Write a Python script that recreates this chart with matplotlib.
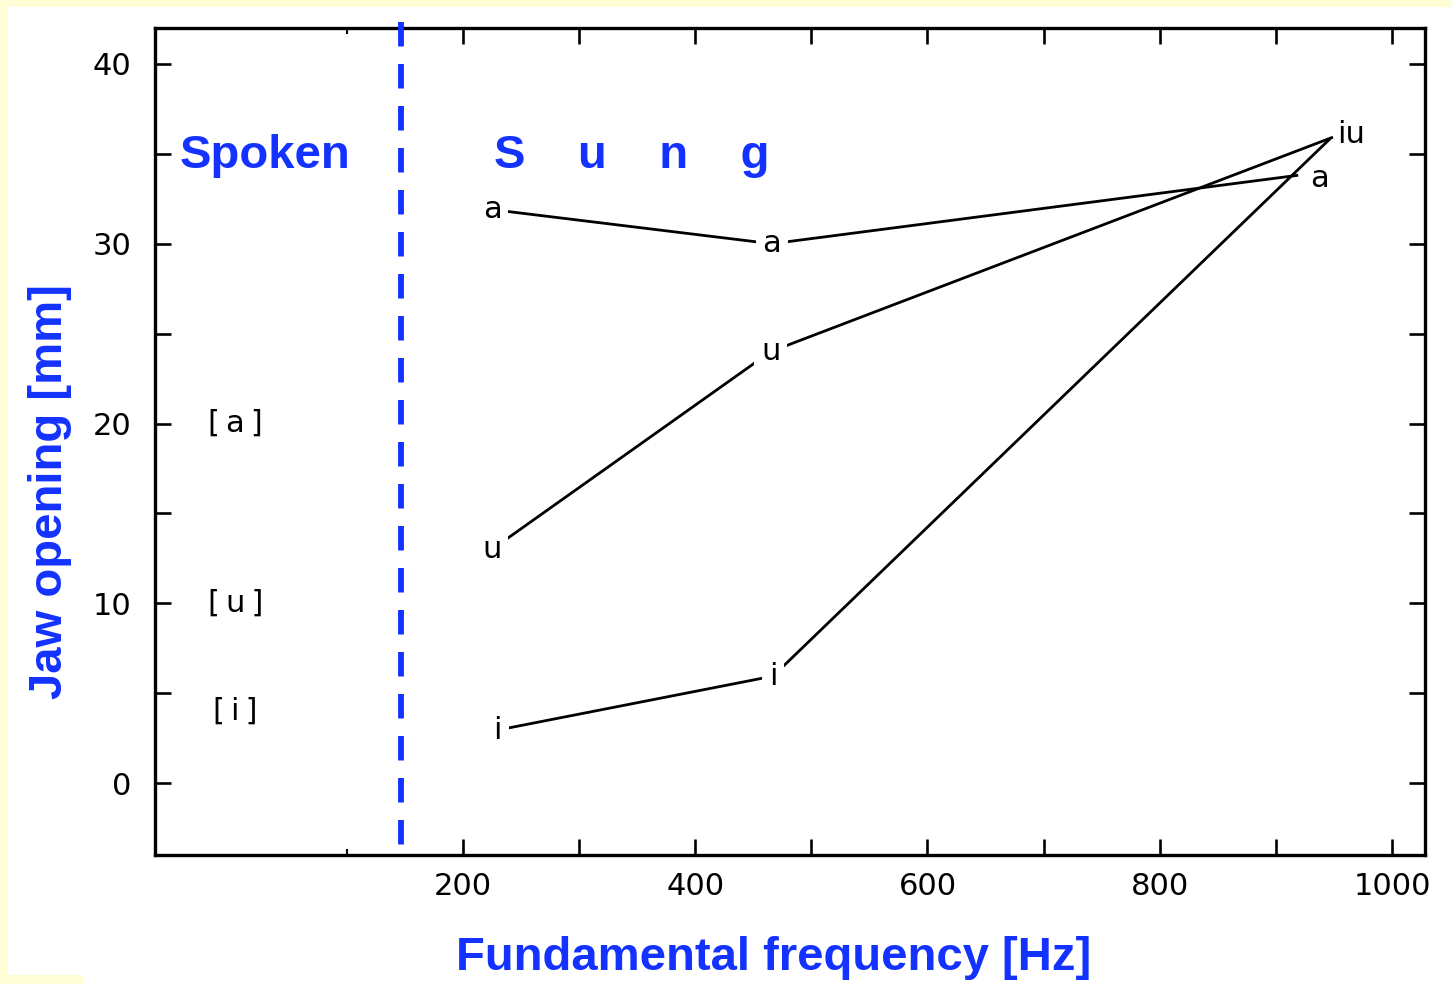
import numpy as np
import matplotlib
matplotlib.use('Agg')
import matplotlib.pyplot as plt
from matplotlib.patches import Rectangle

# sung vowels: fundamental frequency [Hz] vs jaw opening [mm]
freq_a = [225, 466, 918]
jaw_a = [31.9, 30.0, 33.8]
freq_u = [225, 465, 948]
jaw_u = [13.0, 24.0, 35.9]
freq_i = [230, 467, 946]
jaw_i = [2.95, 5.95, 35.8]

# spoken vowels
spoken_labels = ['[\u2009a\u2009]', '[\u2009u\u2009]', '[\u2009i\u2009]']
spoken_jaw = [20, 10, 4]
spoken_x = 4

divider_x = 146.6

xticks = [200, 300, 400, 500, 600, 700, 800, 900, 1000]
xticklabels = ['200', '', '400', '', '600', '', '800', '', '1000']
yticks = [0, 5, 10, 15, 20, 25, 30, 35, 40]
yticklabels = ['0', '', '10', '', '20', '', '30', '', '40']

BLUE = '#1432ff'
YELLOW = '#fffdd6'

fig = plt.figure(figsize=(14.52, 9.84), dpi=100, facecolor=YELLOW)
# white page with a yellow frame like the scanned slide
fig.patches.append(Rectangle((8 / 1452, 0), 1 - 8 / 1452, 1 - 7 / 984,
                             transform=fig.transFigure, fc='white', ec='none', zorder=-10))
fig.patches.append(Rectangle((0, 0), 83 / 1452, 9 / 984,
                             transform=fig.transFigure, fc=YELLOW, ec='none', zorder=-9))

ax = fig.add_axes([155 / 1452, 1 - 855 / 984, (1425 - 155) / 1452, (855 - 28) / 984])
ax.set_facecolor('none')
ax.set_xlim(-65.2, 1028.4)
ax.set_ylim(-4.0, 42.0)

for s in ax.spines.values():
    s.set_linewidth(2.4)

ax.set_xticks(xticks)
ax.set_xticklabels(xticklabels)
ax.set_xticks([100], minor=True)
ax.set_yticks(yticks)
ax.set_yticklabels(yticklabels)
ax.tick_params(which='major', direction='in', top=True, right=True,
               length=11.5, width=1.9, labelsize=22)
ax.tick_params(axis='x', which='major', pad=12)
ax.tick_params(axis='y', which='major', pad=17)
ax.tick_params(which='minor', direction='in', top=True, length=4, width=1.5)

lbl_kw = dict(fontsize=22, ha='center', va='center', zorder=5,
              bbox=dict(boxstyle='square,pad=0.22', fc='white', ec='none'))

for fx, jy, name in [(freq_a, jaw_a, 'a'), (freq_u, jaw_u, 'u'), (freq_i, jaw_i, 'i')]:
    ax.plot(fx, jy, color='black', lw=2.0, zorder=3)
    for k in range(2):
        ax.text(fx[k], jy[k], name, **lbl_kw)

ax.annotate('a', (freq_a[2], jaw_a[2]), xytext=(16, -2), textcoords='offset points',
            fontsize=22, ha='center', va='center')
ax.annotate('iu', (freq_u[2], jaw_u[2]), xytext=(14, 2), textcoords='offset points',
            fontsize=22, ha='center', va='center')

for lab, jy in zip(spoken_labels, spoken_jaw):
    ax.text(spoken_x, jy, lab, fontsize=22, ha='center', va='center')

# divider between spoken and sung
ax.plot([divider_x, divider_x], [42.33, -3.45], color=BLUE, lw=4.2,
        dashes=(4.2, 3.0), clip_on=False, zorder=4)

ax.text(29.5, 34.2, 'Spoken', color=BLUE, fontsize=34, fontweight='bold',
        family='Liberation Sans', ha='center', va='baseline')
ax.text(227, 34.2, 'S    u    n    g', color=BLUE, fontsize=34, fontweight='bold',
        family='Liberation Sans', ha='left', va='baseline')

fig.text(50 / 1452, 1 - 492 / 984, 'Jaw opening [mm]', color=BLUE, fontsize=34,
         fontweight='bold', family='Liberation Sans', rotation=90, ha='center', va='center')
fig.text(774 / 1452, 1 - 958 / 984, 'Fundamental frequency [Hz]', color=BLUE, fontsize=34,
         fontweight='bold', family='Liberation Sans', ha='center', va='center')

fig.savefig('out.png', dpi=100, facecolor=fig.get_facecolor())
